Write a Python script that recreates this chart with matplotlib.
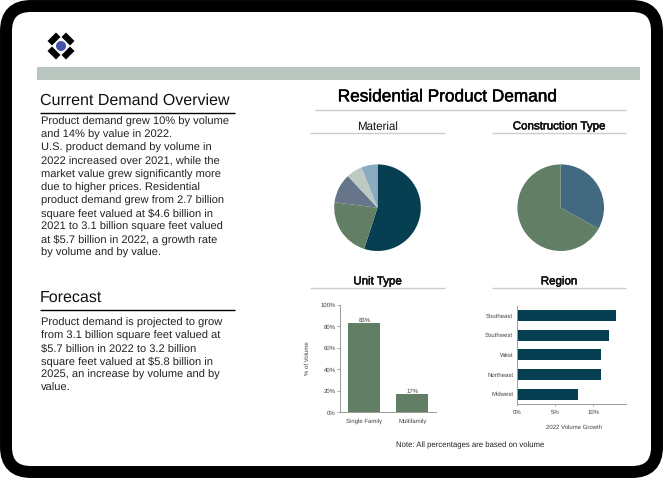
"""Residential product demand slide: overview text plus four small charts."""
import matplotlib
matplotlib.use("Agg")
import matplotlib.pyplot as plt
import matplotlib.patheffects as pe
from matplotlib.patches import FancyBboxPatch, Circle, Polygon, Rectangle
from matplotlib.ticker import FuncFormatter

W, H = 663, 478

plt.rcParams["font.family"] = ["Liberation Sans", "DejaVu Sans"]
plt.rcParams["text.hinting"] = "no_hinting"
plt.rcParams["lines.solid_capstyle"] = "butt"

DARK = "#063f52"
GREEN = "#627f66"
SLATE = "#66758a"
PALE = "#bccac3"
LIGHT_BLUE = "#8aabc0"
STEEL = "#41697f"
RULE = "#c9cecd"
TICK = "#404040"

material_shares = [55, 22, 11, 6, 6]
material_colors = [DARK, GREEN, SLATE, PALE, LIGHT_BLUE]
construction_shares = [33, 67]
construction_colors = [STEEL, GREEN]

unit_types = ["Single Family", "Multifamily"]
unit_values = [83, 17]

regions = ["Southeast", "Southwest", "West", "Northeast", "Midwest"]
region_growth = [13, 12, 11, 11, 8]

overview_lines = [
    "Product demand grew 10% by volume",
    "and 14% by value in 2022.",
    "U.S. product demand by volume in",
    "2022 increased over 2021, while the",
    "market value grew significantly more",
    "due to higher prices. Residential",
    "product demand grew from 2.7 billion",
    "square feet valued at $4.6 billion in",
    "2021 to 3.1 billion square feet valued",
    "at $5.7 billion in 2022, a growth rate",
    "by volume and by value.",
]
forecast_lines = [
    "Product demand is projected to grow",
    "from 3.1 billion square feet valued at",
    "$5.7 billion in 2022 to 3.2 billion",
    "square feet valued at $5.8 billion in",
    "2025, an increase by volume and by",
    "value.",
]


def px_axes(fig, left, top, right, bottom):
    """Axes placed by pixel edges measured from the top left of the slide."""
    return fig.add_axes([left / W, 1 - bottom / H, (right - left) / W, (bottom - top) / H])


def draw_pie(ax, shares, colors):
    ax.pie(shares, colors=colors, startangle=90, counterclock=False, radius=1.0)
    ax.set_xlim(-1, 1)
    ax.set_ylim(-1, 1)


fig = plt.figure(figsize=(W / 100, H / 100), dpi=100, facecolor="white")
bg = fig.add_axes([0, 0, 1, 1])
bg.set_xlim(0, W)
bg.set_ylim(H, 0)
bg.axis("off")

# rounded black frame
bg.add_patch(FancyBboxPatch((6, 6), W - 12, H - 12, boxstyle="round,pad=0,rounding_size=25",
                            facecolor="white", edgecolor="black", linewidth=8.6))

# logo
bg.add_patch(Circle((61, 46), 5, color="#4453a8", lw=0))
for sx, sy in [(1, 1), (1, -1), (-1, 1), (-1, -1)]:
    pts = [(0.5, 9), (9, 0.5), (13.5, 5), (5, 13.5)]
    bg.add_patch(Polygon([(61 + sx * x, 46 + sy * y) for x, y in pts], color="black", lw=0))

bg.add_patch(Rectangle((37, 67), 603, 13, color="#b9c6c0", lw=0))

# left column, baseline aligned so lines with $ do not jump
bg.text(40, 105, "Current Demand Overview", fontsize=11.5, va="baseline", color="#111111")
bg.plot([40, 235], [112.5, 112.5], color="black", lw=1)
for i, line in enumerate(overview_lines):
    bg.text(41, 125 + i * 13.1, line, fontsize=8.0, va="baseline", color="#222222")

bg.text(40, 302, "Forecast", fontsize=11.5, va="baseline", color="#111111")
bg.plot([40, 235], [309.5, 309.5], color="black", lw=1)
for i, line in enumerate(forecast_lines):
    bg.text(41, 325.5 + i * 13.1, line, fontsize=8.0, va="baseline", color="#222222")

# right column headings, slightly stroked like the reference
stroke = [pe.withStroke(linewidth=0.35, foreground="black")]
bg.text(447.5, 97, "Residential Product Demand", fontsize=12.4, ha="center", va="center",
        color="black", path_effects=stroke)
bg.plot([315, 626], [110.3, 110.3], color=RULE, lw=1)
for x0, x1, y, label, bold in [
    (310, 445, 133.3, "Material", False),
    (492, 626, 133.3, "Construction Type", True),
    (310, 445, 288.3, "Unit Type", True),
    (492, 626, 288.3, "Region", True),
]:
    bg.plot([x0, x1], [y, y], color=RULE, lw=1)
    bg.text((x0 + x1) / 2, y - 7, label, fontsize=8.3, ha="center", va="center", color="#111111",
            path_effects=stroke if bold else None)

bg.text(470, 445, "Note: All percentages are based on volume", fontsize=5.55,
        ha="center", va="center", color="#222222")

# pies
ax_mat = px_axes(fig, 334.2, 164.4, 420.8, 251)
draw_pie(ax_mat, material_shares, material_colors)

ax_con = px_axes(fig, 517.4, 164.4, 604, 251)
draw_pie(ax_con, construction_shares, construction_colors)

# unit type columns
ax_unit = px_axes(fig, 340.3, 305, 436.3, 412.3)
bars = ax_unit.bar(unit_types, unit_values, width=0.667, color=GREEN)
ax_unit.set_xlim(-0.5, 1.5)
ax_unit.set_ylim(0, 100)
ax_unit.set_yticks(range(0, 101, 20))
ax_unit.yaxis.set_major_formatter(FuncFormatter(lambda v, _: f"{v:.0f}%"))
ax_unit.set_ylabel("% of Volume", fontsize=4.3, color=TICK)
ax_unit.yaxis.set_label_coords(-0.315, 0.5)
ax_unit.tick_params(axis="y", labelsize=4.3, colors=TICK, length=2.2, width=0.6, pad=1.2, color="#9a9a9a")
ax_unit.tick_params(axis="x", labelsize=4.3, colors=TICK, length=0, pad=4.2)
for rect, v in zip(bars, unit_values):
    ax_unit.text(rect.get_x() + rect.get_width() / 2, v + 0.3, f"{v}%", fontsize=4.3,
                 ha="center", va="bottom", color=TICK)

# region growth bars
ax_reg = px_axes(fig, 517.3, 305.7, 625.7, 404)
ax_reg.barh(regions, region_growth, height=0.56, color=DARK)
ax_reg.set_xlim(0, 14.26)
ax_reg.set_ylim(4.5, -0.5)
ax_reg.set_xticks([0, 5, 10])
ax_reg.xaxis.set_major_formatter(FuncFormatter(lambda v, _: f"{v:.0f}%"))
ax_reg.set_xlabel("2022 Volume Growth", fontsize=4.3, color=TICK, va="center")
ax_reg.xaxis.set_label_coords(0.523, -0.234)
ax_reg.tick_params(axis="x", labelsize=4.3, colors=TICK, length=1.5, width=0.6, pad=2.5, color="#9a9a9a")
ax_reg.tick_params(axis="y", labelsize=4.3, colors=TICK, length=0, pad=3)

for ax in (ax_unit, ax_reg):
    ax.patch.set_alpha(0)
    for side in ("top", "right"):
        ax.spines[side].set_visible(False)
    for side in ("left", "bottom"):
        ax.spines[side].set_color("#9a9a9a")
        ax.spines[side].set_linewidth(0.7)

fig.savefig("out.png", dpi=100)
plt.close(fig)
